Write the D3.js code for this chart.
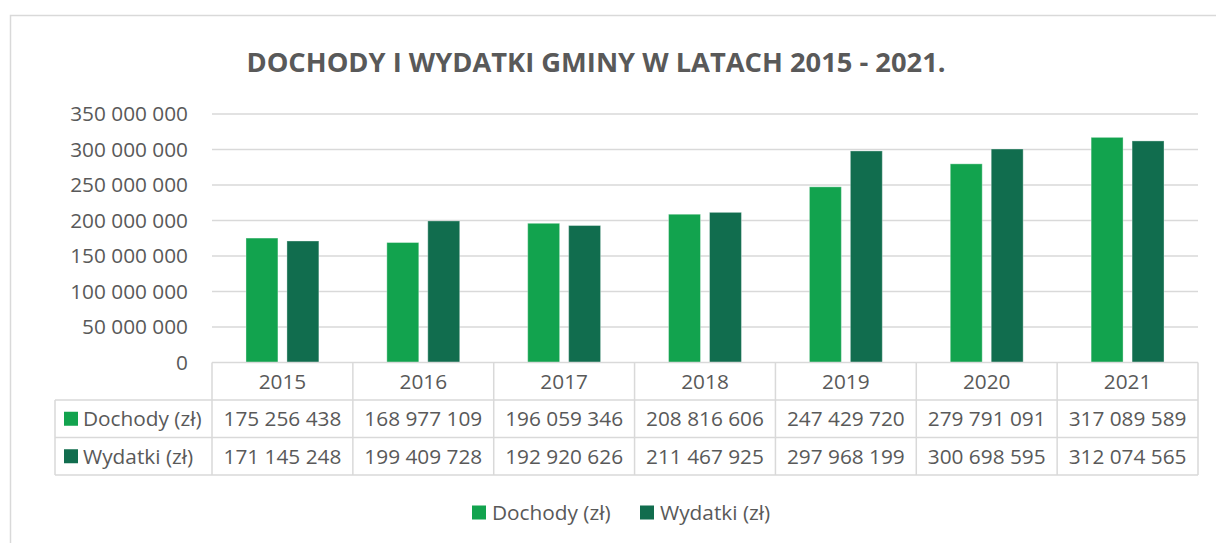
<!DOCTYPE html>
<html>
<head>
<meta charset="utf-8">
<script src="https://cdn.jsdelivr.net/npm/d3@7"></script>
<style>
  html, body { margin: 0; padding: 0; background: #fff; }
  svg { display: block; font-family: "Open Sans", "Noto Sans", sans-serif; }
</style>
</head>
<body>
<svg id="chart" width="1216" height="543"></svg>
<script>
// Budget of the commune, 2015–2021
const years = ["2015", "2016", "2017", "2018", "2019", "2020", "2021"];
const seriesNames = ["Dochody (zł)", "Wydatki (zł)"];
const dochody = [175256438, 168977109, 196059346, 208816606, 247429720, 279791091, 317089589];
const wydatki = [171145248, 199409728, 192920626, 211467925, 297968199, 300698595, 312074565];
const yTicks = [0, 50000000, 100000000, 150000000, 200000000, 250000000, 300000000, 350000000];
const titleText = "DOCHODY I WYDATKI GMINY W LATACH 2015 - 2021.";

const colors = { "Dochody (zł)": "#12a34e", "Wydatki (zł)": "#116d4e" };
const textColor = "#595959";
const lineColor = "#d9d9d9";
const labelSize = 20.8;

const svg = d3.select("#chart");

// spaced thousands, e.g. 175 256 438
const fmt = d3.formatLocale({ decimal: ",", thousands: " ", grouping: [3], currency: ["", ""] }).format(",d");

const rows = [
  { name: seriesNames[0], values: dochody },
  { name: seriesNames[1], values: wydatki }
];

const plot = { left: 212, right: 1198, top: 114, bottom: 362.5 };

// chart frame
svg.append("rect")
  .attr("x", 10.5).attr("y", 15.5)
  .attr("width", 1240).attr("height", 560)
  .attr("fill", "none").attr("stroke", lineColor).attr("stroke-width", 1.5);

// title
svg.append("text")
  .attr("x", 596).attr("y", 72)
  .attr("text-anchor", "middle")
  .attr("fill", textColor)
  .attr("font-weight", 700)
  .attr("font-size", 27.3)
  .text(titleText);

const x0 = d3.scaleBand().domain(years).range([plot.left, plot.right]).padding(0);
const x1 = d3.scaleBand().domain(seriesNames).range([0, x0.bandwidth()])
  .paddingInner(0.22).paddingOuter(0.83);
const y = d3.scaleLinear().domain([0, 350000000]).range([plot.bottom, plot.top]);

// horizontal gridlines
svg.append("g")
  .selectAll("line")
  .data(yTicks.filter(d => d > 0))
  .join("line")
  .attr("x1", plot.left).attr("x2", plot.right)
  .attr("y1", d => y(d)).attr("y2", d => y(d))
  .attr("stroke", lineColor).attr("stroke-width", 1.5);

// value axis labels
const yAxis = d3.axisLeft(y).tickValues(yTicks).tickFormat(d => d === 0 ? "0" : fmt(d)).tickSize(0).tickPadding(0);
const yg = svg.append("g").attr("transform", "translate(188,0)").call(yAxis);
yg.select(".domain").remove();
yg.selectAll("text")
  .attr("fill", textColor)
  .attr("font-size", labelSize)
  .attr("font-family", "'Open Sans', sans-serif");

// bars
const groups = svg.append("g")
  .selectAll("g")
  .data(years.map((yr, i) => ({ yr, i })))
  .join("g")
  .attr("transform", d => `translate(${x0(d.yr)},0)`);

groups.selectAll("rect")
  .data(d => rows.map(r => ({ name: r.name, value: r.values[d.i] })))
  .join("rect")
  .attr("x", d => x1(d.name))
  .attr("width", x1.bandwidth())
  .attr("y", d => y(d.value))
  .attr("height", d => y(0) - y(d.value))
  .attr("fill", d => colors[d.name])
  .attr("stroke", "rgba(255,255,255,0.35)")
  .attr("stroke-width", 1);

// data table under the axis
const rowH = 37.5;
const tableTop = plot.bottom;
const tableLeft = 55;
const tableBottom = tableTop + rowH * 3;
const tg = svg.append("g").attr("stroke", lineColor).attr("stroke-width", 1.5);

tg.append("line").attr("x1", plot.left).attr("x2", plot.right).attr("y1", tableTop).attr("y2", tableTop);
[1, 2, 3].forEach(k => {
  tg.append("line").attr("x1", tableLeft).attr("x2", plot.right)
    .attr("y1", tableTop + rowH * k).attr("y2", tableTop + rowH * k);
});
tg.append("line").attr("x1", tableLeft).attr("x2", tableLeft)
  .attr("y1", tableTop + rowH).attr("y2", tableBottom);
years.concat(["end"]).forEach((yr, i) => {
  const xx = i < years.length ? x0(yr) : plot.right;
  tg.append("line").attr("x1", xx).attr("x2", xx).attr("y1", tableTop).attr("y2", tableBottom);
});

const cellText = svg.append("g")
  .attr("fill", textColor)
  .attr("font-size", labelSize)
  .attr("text-anchor", "middle");

cellText.selectAll("text.year")
  .data(years)
  .join("text")
  .attr("class", "year")
  .attr("x", d => x0(d) + x0.bandwidth() / 2)
  .attr("y", tableTop + rowH / 2)
  .attr("dy", "0.36em")
  .text(d => d);

rows.forEach((r, k) => {
  const cy = tableTop + rowH * (k + 1.5);
  cellText.selectAll(null)
    .data(r.values)
    .join("text")
    .attr("x", (d, i) => x0(years[i]) + x0.bandwidth() / 2)
    .attr("y", cy)
    .attr("dy", "0.36em")
    .text(d => fmt(d));

  svg.append("rect")
    .attr("x", 64).attr("y", cy - 7)
    .attr("width", 14).attr("height", 14)
    .attr("fill", colors[r.name]);
  svg.append("text")
    .attr("x", 83).attr("y", cy)
    .attr("dy", "0.36em")
    .attr("fill", textColor)
    .attr("font-size", labelSize)
    .text(r.name);
});

// legend
const legendPos = [472, 640];
const lg = svg.append("g");
seriesNames.forEach((name, i) => {
  lg.append("rect")
    .attr("x", legendPos[i]).attr("y", 505.5)
    .attr("width", 14).attr("height", 14)
    .attr("fill", colors[name]);
  lg.append("text")
    .attr("x", legendPos[i] + 20).attr("y", 512.5)
    .attr("dy", "0.36em")
    .attr("fill", textColor)
    .attr("font-size", labelSize)
    .text(name);
});
</script>
</body>
</html>
